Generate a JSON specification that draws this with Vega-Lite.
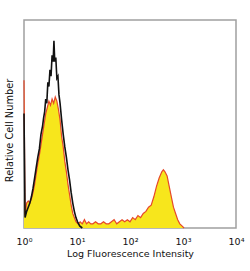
{
  "$schema": "https://vega.github.io/schema/vega-lite/v6.json",
  "width": 212,
  "height": 208,
  "autosize": {"type": "none"},
  "padding": {"left": 24, "top": 20, "right": 14, "bottom": 43},
  "background": "white",
  "config": {
    "view": {"stroke": "#a0a0a0", "strokeWidth": 1.5},
    "font": "DejaVu Sans"
  },
  "data": {
    "values": [
      {"series": "control", "logFI": 0.00, "count": 0.55},
      {"series": "control", "logFI": 0.02, "count": 0.05},
      {"series": "control", "logFI": 0.05, "count": 0.08},
      {"series": "control", "logFI": 0.08, "count": 0.10},
      {"series": "control", "logFI": 0.11, "count": 0.12},
      {"series": "control", "logFI": 0.14, "count": 0.15},
      {"series": "control", "logFI": 0.17, "count": 0.19},
      {"series": "control", "logFI": 0.20, "count": 0.24},
      {"series": "control", "logFI": 0.23, "count": 0.29},
      {"series": "control", "logFI": 0.26, "count": 0.34},
      {"series": "control", "logFI": 0.29, "count": 0.38},
      {"series": "control", "logFI": 0.32, "count": 0.45},
      {"series": "control", "logFI": 0.35, "count": 0.49},
      {"series": "control", "logFI": 0.37, "count": 0.53},
      {"series": "control", "logFI": 0.39, "count": 0.56},
      {"series": "control", "logFI": 0.41, "count": 0.62},
      {"series": "control", "logFI": 0.43, "count": 0.60},
      {"series": "control", "logFI": 0.45, "count": 0.70},
      {"series": "control", "logFI": 0.47, "count": 0.68},
      {"series": "control", "logFI": 0.49, "count": 0.76},
      {"series": "control", "logFI": 0.51, "count": 0.73},
      {"series": "control", "logFI": 0.53, "count": 0.83},
      {"series": "control", "logFI": 0.55, "count": 0.80},
      {"series": "control", "logFI": 0.565, "count": 0.90},
      {"series": "control", "logFI": 0.58, "count": 0.80},
      {"series": "control", "logFI": 0.60, "count": 0.82},
      {"series": "control", "logFI": 0.62, "count": 0.72},
      {"series": "control", "logFI": 0.64, "count": 0.73},
      {"series": "control", "logFI": 0.66, "count": 0.64},
      {"series": "control", "logFI": 0.68, "count": 0.60},
      {"series": "control", "logFI": 0.71, "count": 0.52},
      {"series": "control", "logFI": 0.74, "count": 0.45},
      {"series": "control", "logFI": 0.77, "count": 0.39},
      {"series": "control", "logFI": 0.80, "count": 0.34},
      {"series": "control", "logFI": 0.83, "count": 0.28},
      {"series": "control", "logFI": 0.86, "count": 0.23},
      {"series": "control", "logFI": 0.89, "count": 0.17},
      {"series": "control", "logFI": 0.92, "count": 0.12},
      {"series": "control", "logFI": 0.95, "count": 0.08},
      {"series": "control", "logFI": 0.98, "count": 0.05},
      {"series": "control", "logFI": 1.01, "count": 0.03},
      {"series": "control", "logFI": 1.05, "count": 0.01},
      {"series": "control", "logFI": 1.10, "count": 0.00},
      {"series": "stained", "logFI": 0.00, "count": 0.71},
      {"series": "stained", "logFI": 0.02, "count": 0.06},
      {"series": "stained", "logFI": 0.05, "count": 0.12},
      {"series": "stained", "logFI": 0.08, "count": 0.13},
      {"series": "stained", "logFI": 0.11, "count": 0.12},
      {"series": "stained", "logFI": 0.14, "count": 0.14},
      {"series": "stained", "logFI": 0.17, "count": 0.17},
      {"series": "stained", "logFI": 0.20, "count": 0.21},
      {"series": "stained", "logFI": 0.23, "count": 0.26},
      {"series": "stained", "logFI": 0.26, "count": 0.31},
      {"series": "stained", "logFI": 0.29, "count": 0.35},
      {"series": "stained", "logFI": 0.32, "count": 0.40},
      {"series": "stained", "logFI": 0.35, "count": 0.45},
      {"series": "stained", "logFI": 0.38, "count": 0.50},
      {"series": "stained", "logFI": 0.41, "count": 0.55},
      {"series": "stained", "logFI": 0.44, "count": 0.58},
      {"series": "stained", "logFI": 0.47, "count": 0.61},
      {"series": "stained", "logFI": 0.50, "count": 0.59},
      {"series": "stained", "logFI": 0.53, "count": 0.62},
      {"series": "stained", "logFI": 0.56, "count": 0.60},
      {"series": "stained", "logFI": 0.59, "count": 0.63},
      {"series": "stained", "logFI": 0.62, "count": 0.61},
      {"series": "stained", "logFI": 0.65, "count": 0.57},
      {"series": "stained", "logFI": 0.68, "count": 0.52},
      {"series": "stained", "logFI": 0.71, "count": 0.44},
      {"series": "stained", "logFI": 0.74, "count": 0.39},
      {"series": "stained", "logFI": 0.77, "count": 0.32},
      {"series": "stained", "logFI": 0.80, "count": 0.27},
      {"series": "stained", "logFI": 0.83, "count": 0.21},
      {"series": "stained", "logFI": 0.86, "count": 0.16},
      {"series": "stained", "logFI": 0.89, "count": 0.11},
      {"series": "stained", "logFI": 0.92, "count": 0.07},
      {"series": "stained", "logFI": 0.95, "count": 0.05},
      {"series": "stained", "logFI": 0.98, "count": 0.03},
      {"series": "stained", "logFI": 1.02, "count": 0.02},
      {"series": "stained", "logFI": 1.06, "count": 0.03},
      {"series": "stained", "logFI": 1.10, "count": 0.02},
      {"series": "stained", "logFI": 1.14, "count": 0.04},
      {"series": "stained", "logFI": 1.18, "count": 0.02},
      {"series": "stained", "logFI": 1.22, "count": 0.03},
      {"series": "stained", "logFI": 1.26, "count": 0.02},
      {"series": "stained", "logFI": 1.30, "count": 0.02},
      {"series": "stained", "logFI": 1.35, "count": 0.03},
      {"series": "stained", "logFI": 1.40, "count": 0.02},
      {"series": "stained", "logFI": 1.45, "count": 0.02},
      {"series": "stained", "logFI": 1.50, "count": 0.03},
      {"series": "stained", "logFI": 1.55, "count": 0.02},
      {"series": "stained", "logFI": 1.60, "count": 0.02},
      {"series": "stained", "logFI": 1.65, "count": 0.03},
      {"series": "stained", "logFI": 1.70, "count": 0.04},
      {"series": "stained", "logFI": 1.75, "count": 0.02},
      {"series": "stained", "logFI": 1.80, "count": 0.03},
      {"series": "stained", "logFI": 1.85, "count": 0.04},
      {"series": "stained", "logFI": 1.90, "count": 0.03},
      {"series": "stained", "logFI": 1.95, "count": 0.04},
      {"series": "stained", "logFI": 2.00, "count": 0.03},
      {"series": "stained", "logFI": 2.05, "count": 0.05},
      {"series": "stained", "logFI": 2.10, "count": 0.04},
      {"series": "stained", "logFI": 2.15, "count": 0.06},
      {"series": "stained", "logFI": 2.20, "count": 0.05},
      {"series": "stained", "logFI": 2.25, "count": 0.07},
      {"series": "stained", "logFI": 2.30, "count": 0.08},
      {"series": "stained", "logFI": 2.35, "count": 0.10},
      {"series": "stained", "logFI": 2.40, "count": 0.11},
      {"series": "stained", "logFI": 2.45, "count": 0.15},
      {"series": "stained", "logFI": 2.50, "count": 0.20},
      {"series": "stained", "logFI": 2.55, "count": 0.24},
      {"series": "stained", "logFI": 2.60, "count": 0.27},
      {"series": "stained", "logFI": 2.63, "count": 0.28},
      {"series": "stained", "logFI": 2.66, "count": 0.27},
      {"series": "stained", "logFI": 2.70, "count": 0.25},
      {"series": "stained", "logFI": 2.74, "count": 0.20},
      {"series": "stained", "logFI": 2.78, "count": 0.15},
      {"series": "stained", "logFI": 2.82, "count": 0.10},
      {"series": "stained", "logFI": 2.86, "count": 0.07},
      {"series": "stained", "logFI": 2.90, "count": 0.04},
      {"series": "stained", "logFI": 2.94, "count": 0.02},
      {"series": "stained", "logFI": 2.98, "count": 0.01},
      {"series": "stained", "logFI": 3.02, "count": 0.00}
    ]
  },
  "encoding": {
    "x": {
      "field": "logFI",
      "type": "quantitative",
      "scale": {"domain": [0, 4], "nice": false, "zero": false},
      "axis": {
        "values": [0, 1, 2, 3, 4],
        "labelExpr": "'10' + ['⁰','¹','²','³','⁴'][datum.value]",
        "title": "Log Fluorescence Intensity",
        "grid": false,
        "domain": false,
        "ticks": false,
        "labelFontSize": 9.5,
        "labelColor": "#111",
        "labelPadding": 8,
        "labelFlush": false,
        "titleFontSize": 9.5,
        "titleFontWeight": "normal",
        "titleColor": "#111",
        "titlePadding": 3
      }
    },
    "y": {
      "field": "count",
      "type": "quantitative",
      "scale": {"domain": [0, 1], "nice": false},
      "axis": {
        "title": "Relative Cell Number",
        "labels": false,
        "ticks": false,
        "domain": false,
        "grid": false,
        "titleFontSize": 9.8,
        "titleFontWeight": "normal",
        "titleColor": "#111",
        "titlePadding": 10,
        "titleY": 110
      }
    }
  },
  "layer": [
    {
      "transform": [{"filter": "datum.series == 'stained'"}],
      "mark": {"type": "area", "color": "#f7e61c", "opacity": 1, "line": {"color": "#e6482a", "strokeWidth": 1.2}}
    },
    {
      "transform": [{"filter": "datum.series == 'control'"}],
      "mark": {"type": "line", "color": "#111111", "strokeWidth": 1.6}
    }
  ]
}
